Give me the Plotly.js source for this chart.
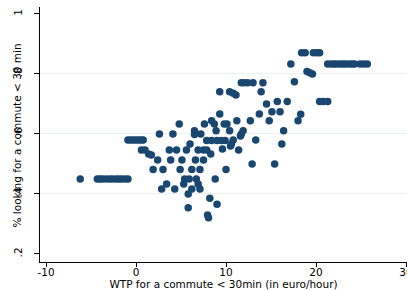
<!DOCTYPE html>
<html>
<head>
<meta charset="utf-8">
<script src="https://cdn.plot.ly/plotly-3.0.1.min.js"></script>
<style>html,body{margin:0;padding:0;background:#fff;}#chart{width:407px;height:291px;}</style>
</head>
<body>
<div id="chart"></div>
<script>
// WTP for a commute < 30 min (euro/hour)
const wtp = [
  18.4, 18.8, 19.7, 20.1, 20.4,
  17.2, 21.3, 21.7, 22.0, 22.3, 22.7, 23.0, 23.3, 23.7, 24.0, 24.3, 24.9, 25.3, 25.7,
  19.0, 19.3, 19.6,
  17.6, 11.7, 12.0, 12.4, 13.0, 14.1,
  9.3, 10.4, 10.8, 11.1, 13.9,
  14.5, 15.7, 16.8, 20.4, 20.8, 21.3,
  15.1, 16.0,
  9.3, 13.7, 18.3,
  8.4, 11.2, 12.7, 14.8, 18.0,
  4.8, 7.6, 8.7, 9.8, 10.1,
  6.5, 8.9, 10.4, 11.9, 16.4,
  2.6, 4.1, 6.5, 7.2, 11.7, 11.6,
  -0.9, -0.6, -0.3, 0.0, 0.3, 0.6, 0.8, 7.85, 8.4, 9.0, 9.5, 9.9, 10.8, 13.3,
  6.0, 10.6, 10.5, 16.2,
  0.6, 1.0, 3.7, 4.5, 5.6, 6.9, 7.5, 7.85, 9.6, 11.4,
  1.4, 1.7, 8.3,
  2.4, 3.85, 5.1, 6.6, 7.5,
  12.9, 15.4,
  1.9, 3.0, 4.9, 6.2, 7.1, 10.0,
  -6.2, -4.3, -4.0, -3.7, -3.3, -2.9, -2.6, -2.2, -1.9, -1.6, -1.2, -0.9, 5.4, 5.9, 6.7, 8.8,
  3.4, 5.3, 6.9,
  2.85, 4.3, 6.2, 7.1,
  5.8, 8.2, 9.0, 5.8, 7.95, 8.05
];
// Share looking for a commute < 30 min
const share = [
  0.871, 0.871, 0.871, 0.871, 0.871,
  0.833, 0.833, 0.833, 0.833, 0.833, 0.833, 0.833, 0.833, 0.833, 0.833, 0.833, 0.833, 0.833, 0.833,
  0.808, 0.804, 0.800,
  0.774, 0.771, 0.771, 0.771, 0.771, 0.771,
  0.741, 0.741, 0.736, 0.730, 0.741,
  0.700, 0.708, 0.708, 0.708, 0.708, 0.708,
  0.674, 0.674,
  0.667, 0.667, 0.666,
  0.644, 0.644, 0.644, 0.644, 0.644,
  0.633, 0.633, 0.633, 0.633, 0.633,
  0.611, 0.611, 0.611, 0.611, 0.611,
  0.600, 0.600, 0.598, 0.600, 0.600, 0.593,
  0.580, 0.580, 0.580, 0.580, 0.580, 0.580, 0.580, 0.578, 0.578, 0.578, 0.578, 0.578, 0.580, 0.580,
  0.567, 0.567, 0.560, 0.567,
  0.547, 0.547, 0.547, 0.547, 0.547, 0.547, 0.547, 0.547, 0.550, 0.547,
  0.533, 0.530, 0.533,
  0.513, 0.513, 0.513, 0.513, 0.513,
  0.500, 0.500,
  0.482, 0.482, 0.482, 0.482, 0.482, 0.482,
  0.450, 0.450, 0.450, 0.450, 0.450, 0.450, 0.450, 0.450, 0.450, 0.450, 0.450, 0.450, 0.450, 0.450, 0.450, 0.450,
  0.433, 0.433, 0.433,
  0.417, 0.417, 0.417, 0.417,
  0.400, 0.386, 0.366, 0.354, 0.330, 0.321
];
const xTicks = [-10, 0, 10, 20, 30];
const xTickText = ['-10', '0', '10', '20', '30'];
const yTicks = [0.2, 0.4, 0.6, 0.8, 1];
const yTickText = ['.2', '.4', '.6', '.8', '1'];
const yGrid = [0.4, 0.6, 0.8];
const xTitle = 'WTP for a commute < 30min (in euro/hour)';
const yTitle = '% looking for a commute < 30 min';

const font = {family: 'DejaVu Sans, sans-serif', size: 10.5, color: '#000'};
const trace = {
  type: 'scatter', mode: 'markers', x: wtp, y: share,
  marker: {color: '#1a476f', size: 7.5, line: {width: 0}},
  hoverinfo: 'skip', showlegend: false
};
const yRange = [0.1733, 1.0233];
const layout = {
  width: 407, height: 291,
  margin: {l: 40, r: 0, t: 7, b: 29},
  paper_bgcolor: '#fff', plot_bgcolor: '#fff',
  font: font,
  showlegend: false,
  xaxis: {
    range: [-10.67, 30.11], tickvals: xTicks, ticktext: xTickText,
    showgrid: false, zeroline: false, showline: true, linecolor: '#000', linewidth: 1,
    ticks: 'outside', ticklen: 4, tickcolor: '#000', tickfont: font,
    ticklabeloverflow: 'allow', ticklabelstandoff: -4,
    title: {text: xTitle, font: font, standoff: 1},
    automargin: false
  },
  // axis line and short ticks
  yaxis: {
    range: yRange, tickvals: yTicks, showticklabels: false,
    showgrid: false, zeroline: false, showline: true, linecolor: '#000', linewidth: 1,
    ticks: 'outside', ticklen: 5, tickcolor: '#000',
    automargin: false
  },
  // tick labels, set a little further out than the ticks
  yaxis2: {
    overlaying: 'y', anchor: 'x', side: 'left', range: yRange,
    tickvals: yTicks, ticktext: yTickText, tickangle: -90, tickfont: font,
    ticks: 'outside', ticklen: 13, tickcolor: 'rgba(0,0,0,0)',
    showgrid: false, zeroline: false, showline: false, automargin: false
  },
  // light horizontal grid at inner ticks
  yaxis3: {
    overlaying: 'y', anchor: 'x', range: yRange, tickvals: yGrid, showticklabels: false,
    showgrid: true, gridcolor: '#eaf2f3', gridwidth: 1, zeroline: false,
    showline: false, ticks: '', automargin: false
  },
  annotations: [{
    text: yTitle, font: font, textangle: -90, showarrow: false,
    xref: 'paper', yref: 'paper', x: 0, y: 0.5, xanchor: 'center', yanchor: 'middle',
    xshift: -24, yshift: -1
  }]
};
const labelTrace = {type: 'scatter', x: [], y: [], yaxis: 'y2', hoverinfo: 'skip', showlegend: false};
const gridTrace = {type: 'scatter', x: [], y: [], yaxis: 'y3', hoverinfo: 'skip', showlegend: false};
Plotly.newPlot('chart', [labelTrace, gridTrace, trace], layout, {staticPlot: true, displayModeBar: false});
</script>
</body>
</html>
